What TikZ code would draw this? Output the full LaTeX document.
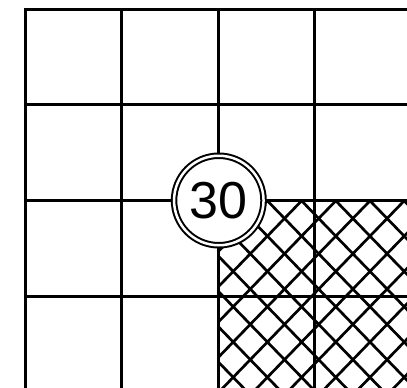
\documentclass[tikz,border=0pt]{standalone}
\usepackage{fontspec}
\setmainfont{Liberation Sans}
\begin{document}
\begin{tikzpicture}[x=1pt,y=-1pt,
  gridline/.style={line width=3pt},
  hatchline/.style={line width=2.7pt},
  numcircle/.style={circle,draw=black,line width=2pt,double=white,double distance=2.5pt,
    fill=white,minimum size=89.5pt,inner sep=0pt,font=\fontsize{52}{52}\selectfont}]
\useasboundingbox (0,0) rectangle (407,388);
% cross hatching
\begin{scope}
\clip (218.3,200.5) rectangle (407,388);
\foreach \m in {-10,...,8} {
  \draw[hatchline] ({370+34.2*\m-300},{342-300*1.0322}) -- ({370+34.2*\m+300},{342+300*1.0322});
  \draw[hatchline] ({370+34.2*\m-300},{342+300*1.0322}) -- ({370+34.2*\m+300},{342-300*1.0322});
}
\end{scope}
% grid
\draw[gridline] (25,388) -- (25,9) -- (407,9);
\foreach \x in {121.7,218.3,314} \draw[gridline] (\x,9) -- (\x,388);
\foreach \y in {104.5,200.5,296} \draw[gridline] (25,\y) -- (407,\y);
% number
\node[numcircle] (n30) at (218.8,200.5) {30};
\end{tikzpicture}
\end{document}
